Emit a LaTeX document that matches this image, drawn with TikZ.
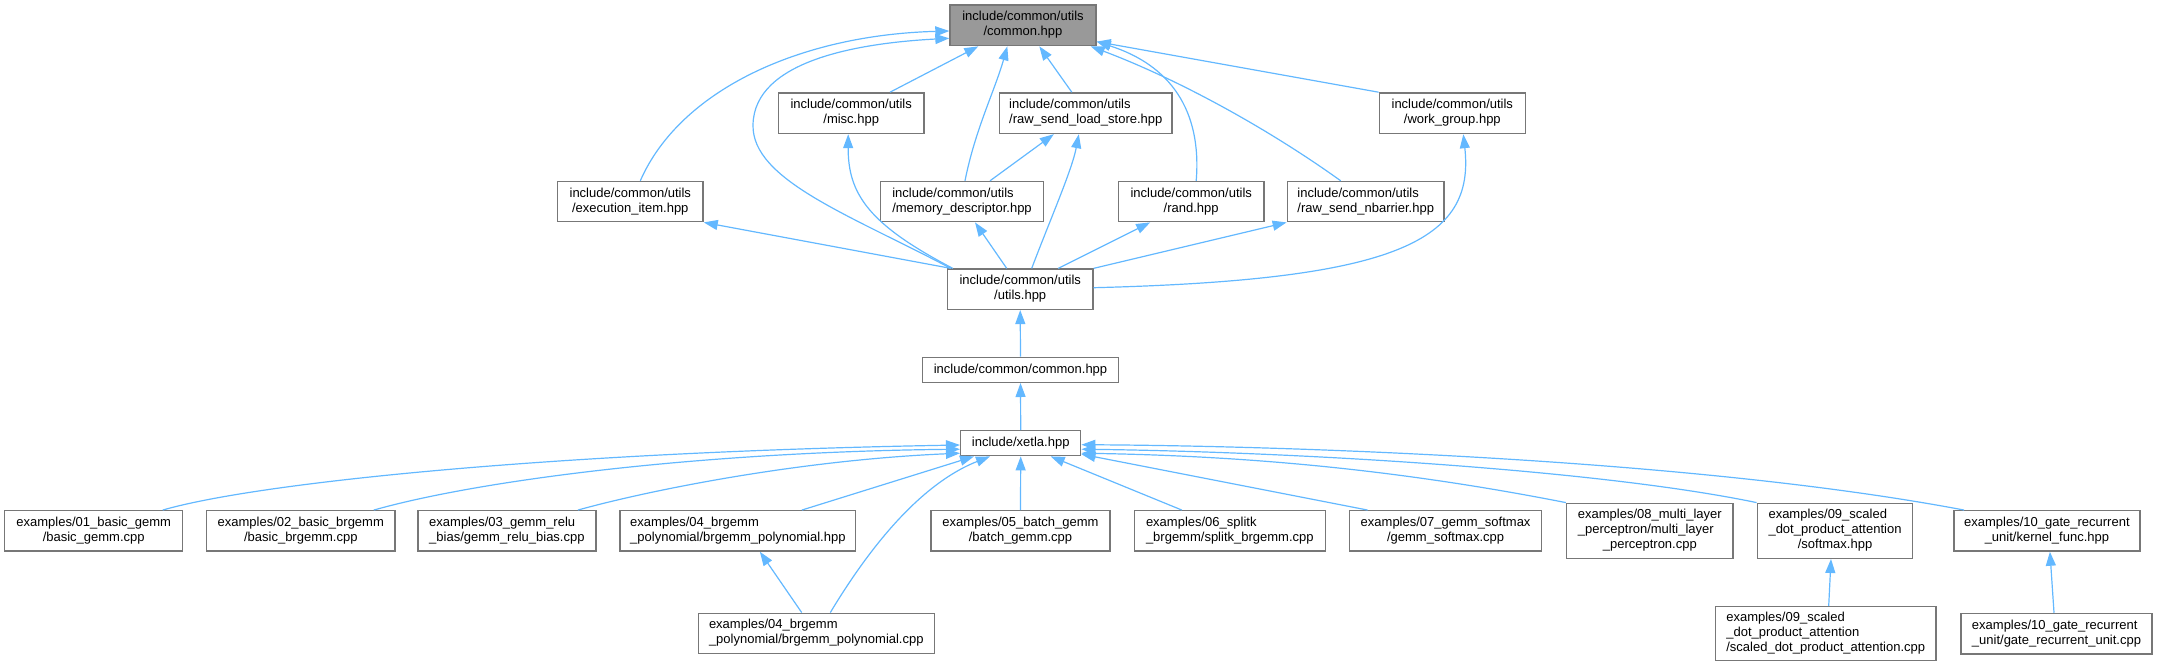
\documentclass[tikz,border=0pt]{standalone}
\usepackage{fontspec}
\setmainfont{Liberation Sans}
\usetikzlibrary{arrows.meta}
\definecolor{edgeblue}{HTML}{63B8FF}
\definecolor{boxline}{HTML}{777777}
\definecolor{focusfill}{HTML}{999999}
\newcommand{\lnA}[2]{\begin{tabular}{@{}l@{}}#1\\\multicolumn{1}{@{}c@{}}{#2}\end{tabular}}
\newcommand{\lnB}[3]{\begin{tabular}{@{}l@{}}#1\\#2\\\multicolumn{1}{@{}c@{}}{#3}\end{tabular}}
\tikzset{
  filebox/.style={draw=boxline, line width=1.4pt, fill=white, inner sep=0pt,
    font=\fontsize{13}{15}\selectfont},
  focusbox/.style={filebox, fill=focusfill},
  edge/.style={draw=edgeblue, line width=1.2pt, -{Triangle[length=14pt,width=10pt]}},
}
\begin{document}
\begin{tikzpicture}[x=1pt,y=1pt]
\useasboundingbox (0,0) rectangle (2157,-667);
% top
\node[focusbox, minimum width=146, minimum height=40.7] (T) at (1023,-25.3) {\lnA{include/common/utils}{/common.hpp}};
% second row
\node[filebox, minimum width=145.7, minimum height=40.6] (misc) at (851.2,-113.2) {\lnA{include/common/utils}{/misc.hpp}};
\node[filebox, minimum width=172.5, minimum height=40.6] (rls) at (1085.8,-113.2) {\lnA{include/common/utils}{/raw\_send\_load\_store.hpp}};
\node[filebox, minimum width=146, minimum height=40.6] (wg) at (1452.3,-113.2) {\lnA{include/common/utils}{/work\_group.hpp}};
% third row
\node[filebox, minimum width=145.5, minimum height=40.2] (exec) at (630.3,-201.6) {\lnA{include/common/utils}{/execution\_item.hpp}};
\node[filebox, minimum width=162.6, minimum height=40.2] (mem) at (962,-201.6) {\lnA{include/common/utils}{/memory\_descriptor.hpp}};
\node[filebox, minimum width=145.7, minimum height=40.2] (rand) at (1191.2,-201.6) {\lnA{include/common/utils}{/rand.hpp}};
\node[filebox, minimum width=156.7, minimum height=40.2] (nb) at (1365.7,-201.6) {\lnA{include/common/utils}{/raw\_send\_nbarrier.hpp}};
% utils
\node[filebox, minimum width=145.5, minimum height=40.3] (utils) at (1020.2,-289.2) {\lnA{include/common/utils}{/utils.hpp}};
\node[filebox, minimum width=196.4, minimum height=25] (cc) at (1020.5,-369.8) {include/common/common.hpp};
\node[filebox, minimum width=120, minimum height=25] (xetla) at (1020.7,-443.2) {include/xetla.hpp};
% bottom row
\node[filebox, minimum width=178, minimum height=40.3] (e01) at (93.7,-530.9) {\lnA{examples/01\_basic\_gemm}{/basic\_gemm.cpp}};
\node[filebox, minimum width=188.3, minimum height=40.3] (e02) at (300.8,-530.9) {\lnA{examples/02\_basic\_brgemm}{/basic\_brgemm.cpp}};
\node[filebox, minimum width=178.2, minimum height=40.3] (e03) at (506.9,-530.9) {\lnA{examples/03\_gemm\_relu}{\_bias/gemm\_relu\_bias.cpp}};
\node[filebox, minimum width=235.7, minimum height=40.3] (e04h) at (737.9,-530.9) {\lnA{examples/04\_brgemm}{\_polynomial/brgemm\_polynomial.hpp}};
\node[filebox, minimum width=179, minimum height=40.3] (e05) at (1020.5,-530.9) {\lnA{examples/05\_batch\_gemm}{/batch\_gemm.cpp}};
\node[filebox, minimum width=191, minimum height=40.3] (e06) at (1229.8,-530.9) {\lnA{examples/06\_splitk}{\_brgemm/splitk\_brgemm.cpp}};
\node[filebox, minimum width=191.8, minimum height=40.3] (e07) at (1445.6,-530.9) {\lnA{examples/07\_gemm\_softmax}{/gemm\_softmax.cpp}};
\node[filebox, minimum width=166.4, minimum height=55] (e08) at (1649.8,-530.8) {\lnB{examples/08\_multi\_layer}{\_perceptron/multi\_layer}{\_perceptron.cpp}};
\node[filebox, minimum width=155.4, minimum height=55] (e09h) at (1835,-530.8) {\lnB{examples/09\_scaled}{\_dot\_product\_attention}{/softmax.hpp}};
\node[filebox, minimum width=186.2, minimum height=40.3] (e10k) at (2046.9,-530.9) {\lnA{examples/10\_gate\_recurrent}{\_unit/kernel\_func.hpp}};
% last row
\node[filebox, minimum width=236, minimum height=40.3] (e04c) at (816.3,-633.4) {\lnA{examples/04\_brgemm}{\_polynomial/brgemm\_polynomial.cpp}};
\node[filebox, minimum width=220.7, minimum height=54] (e09c) at (1825.7,-633.7) {\lnB{examples/09\_scaled}{\_dot\_product\_attention}{/scaled\_dot\_product\_attention.cpp}};
\node[filebox, minimum width=191, minimum height=40.5] (e10c) at (2056.5,-633.7) {\lnA{examples/10\_gate\_recurrent}{\_unit/gate\_recurrent\_unit.cpp}};

% edges to T
\draw[edge] ([xshift=10]exec.north) .. controls (680,-90) and (800,-35) .. ([yshift=-5.7]T.west);
\draw[edge] ([xshift=4]utils.north west) .. controls (850,-215) and (752,-180) .. (753,-125) .. controls (754,-60) and (860,-43) .. ([yshift=-13]T.west);
\draw[edge] ([xshift=38.8]misc.north) -- ([xshift=29]T.south west);
\draw[edge] ([xshift=3]mem.north) .. controls (975,-130) and (995,-90) .. ([xshift=58]T.south west);
\draw[edge] ([xshift=-14]rls.north) -- ([xshift=90]T.south west);
\draw[edge] (wg.north west) -- ([yshift=4.7]T.south east);
\draw[edge] ([xshift=5]rand.north) .. controls (1202,-110) and (1170,-65) .. ([yshift=4.7]T.south east);
\draw[edge] ([xshift=-25]nb.north) .. controls (1270,-130) and (1180,-80) .. ([xshift=-6]T.south east);
% edges from utils
\draw[edge] ([xshift=6]utils.north west) .. controls (870,-225) and (848,-195) .. ([xshift=-3]misc.south);
\draw[edge] ([xshift=11.5]utils.north) .. controls (1050,-220) and (1072,-170) .. ([xshift=-7]rls.south);
\draw[edge] ([xshift=28]mem.north) -- ([xshift=-32]rls.south);
\draw[edge] ([yshift=1.5]utils.east) .. controls (1400,-280) and (1475,-240) .. ([xshift=11]wg.south);
\draw[edge] ([xshift=4]utils.north west) -- (exec.south east);
\draw[edge] ([xshift=-13.5]utils.north) -- ([xshift=13]mem.south);
\draw[edge] ([xshift=38]utils.north) -- ([xshift=-41]rand.south);
\draw[edge] (utils.north east) -- (nb.south west);
\draw[edge] (cc.north) -- (utils.south);
\draw[edge] (xetla.north) -- (cc.south);
% edges to xetla
\draw[edge] ([xshift=69]e01.north) .. controls (260,-482) and (560,-452) .. ([yshift=-1.8]xetla.west);
\draw[edge] ([xshift=73]e02.north) .. controls (480,-480) and (700,-452) .. ([yshift=-6]xetla.west);
\draw[edge] ([xshift=71]e03.north) .. controls (650,-490) and (800,-460) .. ([yshift=-10]xetla.west);
\draw[edge] ([xshift=64]e04h.north) -- ([xshift=14]xetla.south west);
\draw[edge] ([xshift=14]e04c.north) .. controls (880,-530) and (930,-480) .. ([xshift=30]xetla.south west);
\draw[edge] (e05.north) -- (xetla.south);
\draw[edge] ([xshift=-48]e06.north) -- ([xshift=30]xetla.south);
\draw[edge] ([xshift=-78]e07.north) -- ([yshift=-11]xetla.east);
\draw[edge] (e08.north west) .. controls (1400,-470) and (1250,-456) .. ([yshift=-10]xetla.east);
\draw[edge] (e09h.north west) .. controls (1600,-470) and (1300,-452) .. ([yshift=-6]xetla.east);
\draw[edge] ([xshift=11]e10k.north west) .. controls (1700,-460) and (1300,-446) .. ([yshift=-1.5]xetla.east);
% lower edges
\draw[edge] ([xshift=-14.6]e04c.north) -- ([xshift=22]e04h.south);
\draw[edge] ([xshift=3]e09c.north) -- ([xshift=-4]e09h.south);
\draw[edge] ([xshift=-2.5]e10c.north) -- ([xshift=3]e10k.south);
\end{tikzpicture}
\end{document}
